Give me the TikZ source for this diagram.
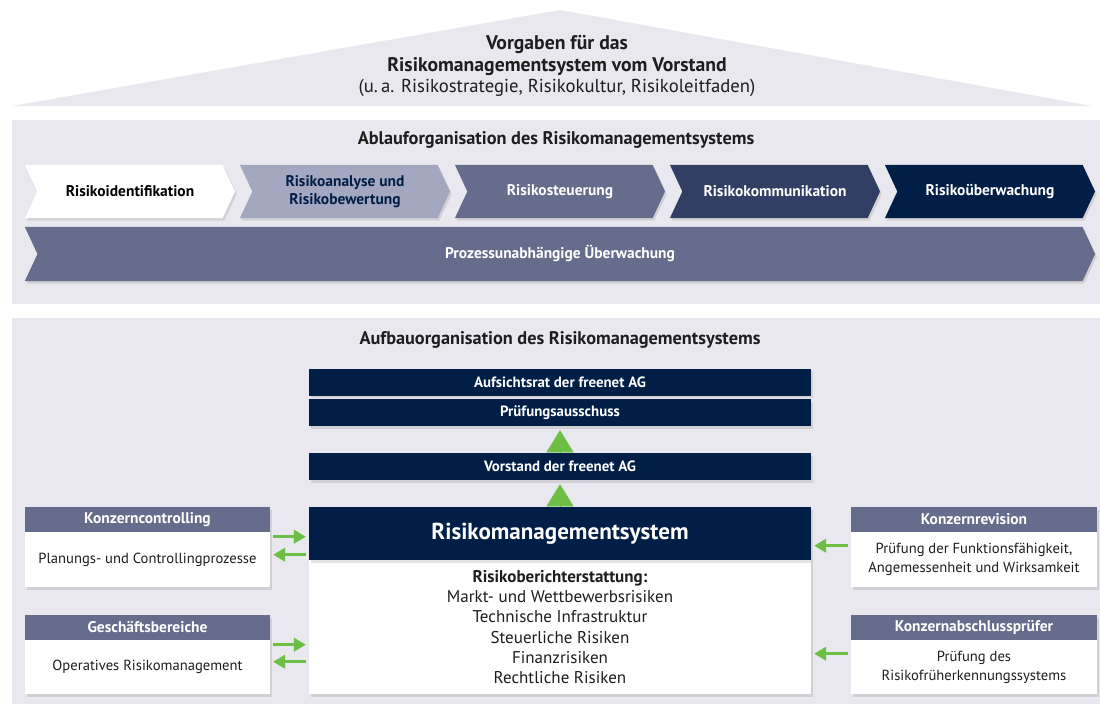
\documentclass[tikz,border=0pt]{standalone}
\usepackage{fontspec}
\setmainfont{PT Sans}
\usepackage{tikz}
\usetikzlibrary{shapes.symbols}
\usetikzlibrary{arrows.meta,shadows}
\definecolor{panelgray}{HTML}{E8E8EE}
\definecolor{navy}{HTML}{001E46}
\definecolor{midnavy}{HTML}{323F64}
\definecolor{slate}{HTML}{656C8C}
\definecolor{lightslate}{HTML}{A3A7BF}
\definecolor{rmsgreen}{HTML}{6DBE45}
\definecolor{bodytext}{HTML}{1E1E1E}
\newcommand{\roofsize}{\fontsize{13.3}{15.6}\selectfont}
\newcommand{\roofbold}{\fontsize{14}{15.6}\selectfont\bfseries}
\newcommand{\titlesize}{\fontsize{13}{15}\selectfont\bfseries}
\newcommand{\chevsize}{\fontsize{11}{12.6}\selectfont}
\newcommand{\darksize}{\fontsize{10.6}{12}\selectfont}
\newcommand{\boxsize}{\fontsize{10.4}{13.4}\selectfont}
\newcommand{\rmssize}{\fontsize{12.1}{14.4}\selectfont}
\tikzset{
  softshadow/.style={drop shadow={opacity=0.22,shadow xshift=1.2pt,shadow yshift=-1.8pt}},
  chev/.style={signal,signal to=east,signal from=west,signal pointer angle=130,
    minimum width=5.25cm,minimum height=1.325cm,inner sep=0pt,align=center,
    font=\chevsize\bfseries,softshadow},
  darkbox/.style={rectangle,fill=navy,text=white,minimum width=12.55cm,
    minimum height=0.675cm,inner sep=0pt,font=\darksize\bfseries,softshadow},
  sidehead/.style={rectangle,fill=slate,text=white,minimum width=6.125cm,
    minimum height=0.625cm,inner sep=0pt,font=\chevsize\bfseries,softshadow},
  sidebody/.style={rectangle,fill=white,text=bodytext,minimum width=6.125cm,
    inner sep=0pt,align=center,font=\boxsize,softshadow},
  garrow/.style={draw=rmsgreen,line width=1.8pt,-{Triangle[length=8.5pt,width=9.5pt]}},
  gtri/.style={draw=rmsgreen,fill=rmsgreen,line width=0.1pt,
    -{Triangle[length=0.55cm,width=0.675cm]}},
}
\begin{document}
\begin{tikzpicture}[x=0.025cm,y=-0.025cm]
  \useasboundingbox (0,0) rectangle (1100,704);
  %%%% roof
  \fill[panelgray] (12,106) -- (560,10) -- (1092,106) -- cycle;
  \node[align=center,text=bodytext,font=\roofsize] (roof) at (557,66)
    {{\roofbold Vorgaben für das}\\ {\roofbold Risikomanagementsystem vom Vorstand}\\
     (u.\,a. Risikostrategie, Risikokultur, Risikoleitfaden)};
  %%%% panels
  \fill[panelgray] (12,120) rectangle (1100,304);
  \fill[panelgray] (12,318) rectangle (1100,704);
  \node[text=bodytext,font=\titlesize] (ablauf) at (556,140)
    {Ablauforganisation des Risikomanagementsystems};
  \node[text=bodytext,font=\titlesize] (aufbau) at (560,340)
    {Aufbauorganisation des Risikomanagementsystems};
  %%%% process chevrons
  \node[chev,fill=white,text=black] (ident) at (130,191.5) {Risikoidentifikation};
  \node[chev,fill=lightslate,text=navy] (analyse) at (345,191.5) {Risikoanalyse und\\Risikobewertung};
  \node[chev,fill=slate,text=white] (steuer) at (560,191.5) {Risikosteuerung};
  \node[chev,fill=midnavy,text=white] (komm) at (775,191.5) {Risikokommunikation};
  \node[chev,fill=navy,text=white] (ueber) at (990,191.5) {Risikoüberwachung};
  \node[chev,fill=slate,text=white,minimum width=26.75cm,minimum height=1.35cm]
    (prozess) at (560,254) {Prozessunabhängige Überwachung};
  %%%% hierarchy
  \node[darkbox] (aufsicht) at (560,382) {Aufsichtsrat der freenet AG};
  \node[darkbox] (pruefung) at (560,412.5) {Prüfungsausschuss};
  \node[darkbox] (vorstand) at (560,466.5) {Vorstand der freenet AG};
  \node[darkbox,minimum height=3.35cm,fill=white,text=bodytext,font=\rmssize,align=center]
    (rmsbody) at (560,627) {\textbf{Risikoberichterstattung:}\\ Markt- und Wettbewerbsrisiken\\
     Technische Infrastruktur\\ Steuerliche Risiken\\ Finanzrisiken\\ Rechtliche Risiken};
  \node[darkbox,minimum height=1.325cm,font=\fontsize{16.4}{19}\selectfont\bfseries]
    (rmshead) at (560,533.5) {Risikomanagementsystem};
  %%%% side boxes left
  \node[sidehead] (kchead) at (147.5,519.5) {Konzerncontrolling};
  \node[sidebody,minimum height=1.375cm] (kcbody) at (147.5,559.5) {Planungs- und Controllingprozesse};
  \node[sidehead] (gbhead) at (147.5,627.5) {Geschäftsbereiche};
  \node[sidebody,minimum height=1.35cm] (gbbody) at (147.5,667) {Operatives Risikomanagement};
  %%%% side boxes right
  \node[sidehead,minimum width=6.15cm] (krhead) at (974,519.5) {Konzernrevision};
  \node[sidebody,minimum width=6.15cm,minimum height=1.375cm] (krbody) at (974,559.5)
    {Prüfung der Funktionsfähigkeit,\\Angemessenheit und Wirksamkeit};
  \node[sidehead,minimum width=6.15cm] (kahead) at (974,627.5) {Konzernabschlussprüfer};
  \node[sidebody,minimum width=6.15cm,minimum height=1.35cm] (kabody) at (974,667)
    {Prüfung des\\Risikofrüherkennungssystems};
  %%%% green links
  \draw[gtri,shorten >=0.1cm] (vorstand.north) -- (pruefung.south);
  \draw[gtri,shorten >=0.1cm] (rmshead.north) -- (vorstand.south);
  \draw[garrow,shorten <=2pt,shorten >=2pt] ([yshift=-0.125cm]kcbody.north east) -- ([yshift=-0.125cm]kcbody.north east -| rmshead.west);
  \draw[garrow,shorten <=2pt,shorten >=2pt] ([yshift=-0.575cm]kcbody.north east -| rmshead.west) -- ([yshift=-0.575cm]kcbody.north east);
  \draw[garrow,shorten <=2pt,shorten >=2pt] ([yshift=-0.125cm]gbbody.north east) -- ([yshift=-0.125cm]gbbody.north east -| rmsbody.west);
  \draw[garrow,shorten <=2pt,shorten >=2pt] ([yshift=-0.55cm]gbbody.north east -| rmsbody.west) -- ([yshift=-0.55cm]gbbody.north east);
  \draw[garrow,shorten <=2pt,shorten >=2pt] ([yshift=-0.35cm]krbody.north west) -- ([yshift=-0.35cm]krbody.north west -| rmshead.east);
  \draw[garrow,shorten <=2pt,shorten >=2pt] ([yshift=-0.35cm]kabody.north west) -- ([yshift=-0.35cm]kabody.north west -| rmsbody.east);
\end{tikzpicture}
\end{document}
